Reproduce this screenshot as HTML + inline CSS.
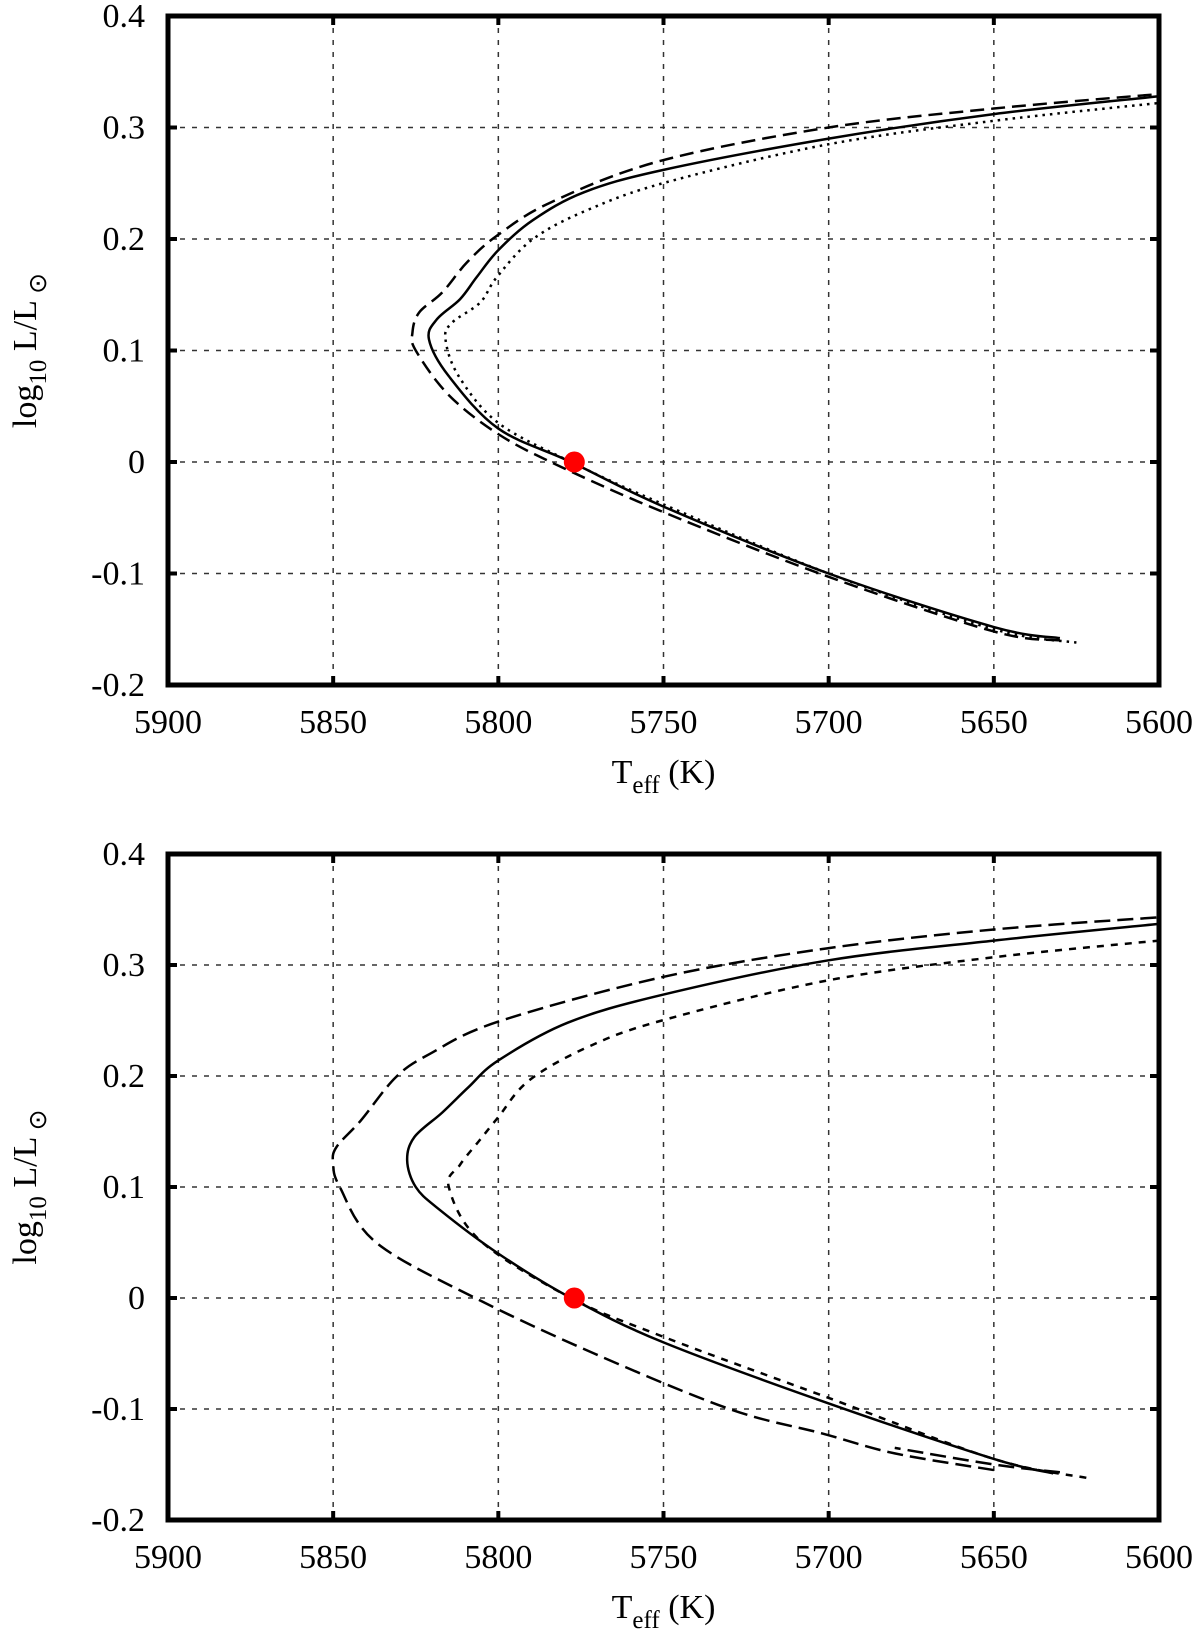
<!DOCTYPE html>
<html><head><meta charset="utf-8"><style>
html,body{margin:0;padding:0;background:#fff;}
svg{display:block;font-family:"Liberation Serif",serif;}
</style></head><body>
<svg id="chart" width="1200" height="1636" viewBox="0 0 1200 1636" xmlns="http://www.w3.org/2000/svg"></svg>
<script>
const xTicks=[5900,5850,5800,5750,5700,5650,5600];
const yTicks=[-0.2,-0.1,0,0.1,0.2,0.3,0.4];
const yTickLabels=["-0.2","-0.1","0","0.1","0.2","0.3","0.4"];
const sunPoint=[5777,0];
// top panel series [Teff, logL]
const topSolidT=[5630,5650,5700,5750,5778,5800,5815,5821,5818.6,5811.6,5806.5,5800,5789.5,5774,5750,5700,5650,5600];
const topSolidL=[-0.158,-0.148,-0.1,-0.04,0,0.03,0.077,0.11,0.128,0.146,0.166,0.19,0.217,0.242,0.262,0.29,0.312,0.328];
const topDashT=[5630,5650,5700,5750,5782,5800,5815,5825,5826,5824,5817,5809.5,5800.4,5784,5751,5700,5650,5600];
const topDashL=[-0.16,-0.152,-0.103,-0.045,-0.003,0.025,0.06,0.1,0.116,0.134,0.152,0.179,0.203,0.233,0.27,0.3,0.317,0.33];
const topDotT=[5625,5650,5700,5750,5778,5800,5812,5816,5814,5805.5,5800.4,5789.5,5773,5749,5700,5650,5600];
const topDotL=[-0.162,-0.15,-0.1,-0.038,0,0.035,0.077,0.11,0.125,0.143,0.166,0.2,0.226,0.251,0.285,0.306,0.322];
// bottom panel series
const botSolidT=[5632,5650,5700,5750,5778,5800,5818,5825,5827.6,5825.4,5817,5809,5800,5779,5750.5,5700.5,5650,5600];
const botSolidL=[-0.158,-0.145,-0.095,-0.04,0,0.04,0.08,0.1,0.124,0.145,0.167,0.19,0.214,0.248,0.273,0.304,0.322,0.337];
const botDashT=[5650,5680,5702,5730,5771,5807,5837,5848,5850,5849,5841.6,5831,5820.7,5800,5750.5,5700.5,5650,5600];
const botDashL=[-0.155,-0.14,-0.122,-0.1,-0.05,0,0.05,0.1,0.121,0.136,0.16,0.199,0.22,0.249,0.289,0.315,0.332,0.343];
const botDash2T=[5630,5650,5680];
const botDash2L=[-0.157,-0.15,-0.135];
const botDotT=[5622,5650,5700,5750,5778,5805.6,5815,5811.6,5805.7,5800,5790.7,5773,5750.5,5700.5,5650,5600];
const botDotL=[-0.162,-0.145,-0.09,-0.035,0,0.052,0.1,0.12,0.142,0.163,0.196,0.226,0.25,0.286,0.307,0.322];

const NS="http://www.w3.org/2000/svg";
const svg=document.getElementById('chart');
function mk(tag,attrs,parent){const e=document.createElementNS(NS,tag);for(const k in attrs)e.setAttribute(k,attrs[k]);(parent||svg).appendChild(e);return e;}
function path(pts){let d="M"+pts[0][0]+","+pts[0][1];for(let i=0;i<pts.length-1;i++){const p0=pts[Math.max(0,i-1)],p1=pts[i],p2=pts[i+1],p3=pts[Math.min(pts.length-1,i+2)];const c1=[p1[0]+(p2[0]-p0[0])/6,p1[1]+(p2[1]-p0[1])/6],c2=[p2[0]-(p3[0]-p1[0])/6,p2[1]-(p3[1]-p1[1])/6];d+=" C"+c1+" "+c2+" "+p2;}return d;}

function panel(top,bottom,name,series){
  const L=168,R=1159;
  const sx=t=>L+(5900-t)/300*(R-L);
  const sy=v=>bottom-(v+0.2)/0.6*(bottom-top);
  const g=mk('g',{});
  
  
  xTicks.forEach(t=>{
    if(t!==5900&&t!==5600){const l=mk('line',{x1:sx(t),x2:sx(t),y1:top,y2:bottom,stroke:'#333','stroke-width':1.5,'stroke-dasharray':'5,7'},g);
      
      mk('line',{x1:sx(t),x2:sx(t),y1:top,y2:top+9,stroke:'#000','stroke-width':4},g);
      mk('line',{x1:sx(t),x2:sx(t),y1:bottom,y2:bottom-9,stroke:'#000','stroke-width':4},g);}
    const tx=mk('text',{x:sx(t),y:bottom+48,'font-size':34,'text-anchor':'middle'},g);tx.textContent=t;
    
  });
  yTicks.forEach((v,i)=>{
    if(i>0&&i<yTicks.length-1){const l=mk('line',{x1:L,x2:R,y1:sy(v),y2:sy(v),stroke:'#333','stroke-width':1.5,'stroke-dasharray':'5,7'},g);
      
      mk('line',{x1:L,x2:L+9,y1:sy(v),y2:sy(v),stroke:'#000','stroke-width':4},g);
      mk('line',{x1:R,x2:R-9,y1:sy(v),y2:sy(v),stroke:'#000','stroke-width':4},g);}
    const tx=mk('text',{x:145,y:sy(v)+11,'font-size':34,'text-anchor':'end'},g);tx.textContent=yTickLabels[i];
    
  });
  series.forEach(s=>{
    const pts=s.T.map((t,i)=>[sx(t),sy(s.L[i])]);
    const p=mk('path',{d:path(pts),fill:'none',stroke:'#000','stroke-width':s.w||2.5,'stroke-dasharray':s.dash||'none'},g);
    
  });
  const c=mk('circle',{cx:sx(sunPoint[0]),cy:sy(sunPoint[1]),r:10.5,fill:'#f00'},g);
  
  const fr=mk('rect',{x:L,y:top,width:R-L,height:bottom-top,fill:'none',stroke:'#000','stroke-width':5},g);
  
  const xl=mk('text',{x:(L+R)/2,y:bottom+98,'font-size':34,'text-anchor':'middle'},g);
  xl.innerHTML='T<tspan font-size="25" dy="10">eff</tspan><tspan dy="-10"> (K)</tspan>';
  
  const yl=mk('text',{transform:`translate(36,${(top+bottom)/2}) rotate(-90)`,'font-size':34,'text-anchor':'middle'},g);
  yl.innerHTML='log<tspan font-size="25" dy="10">10</tspan><tspan dy="-10"> L/L</tspan><tspan font-size="25" dy="10"> ⊙</tspan>';
  
}
panel(16,685,'top-panel',[
  {T:topDotT,L:topDotL,dash:'2.5,5',name:'dotted-track'},
  {T:topDashT,L:topDashL,dash:'14,7',name:'dashed-track'},
  {T:topSolidT,L:topSolidL,name:'solid-track'}]);
panel(854,1520,'bottom-panel',[
  {T:botDotT,L:botDotL,dash:'7,7',name:'dotted-track'},
  {T:botDashT,L:botDashL,dash:'16,7',name:'dashed-track'},
  {T:botDash2T,L:botDash2L,dash:'16,7',name:'dashed-track-branch'},
  {T:botSolidT,L:botSolidL,name:'solid-track'}]);
</script>
</body></html>
